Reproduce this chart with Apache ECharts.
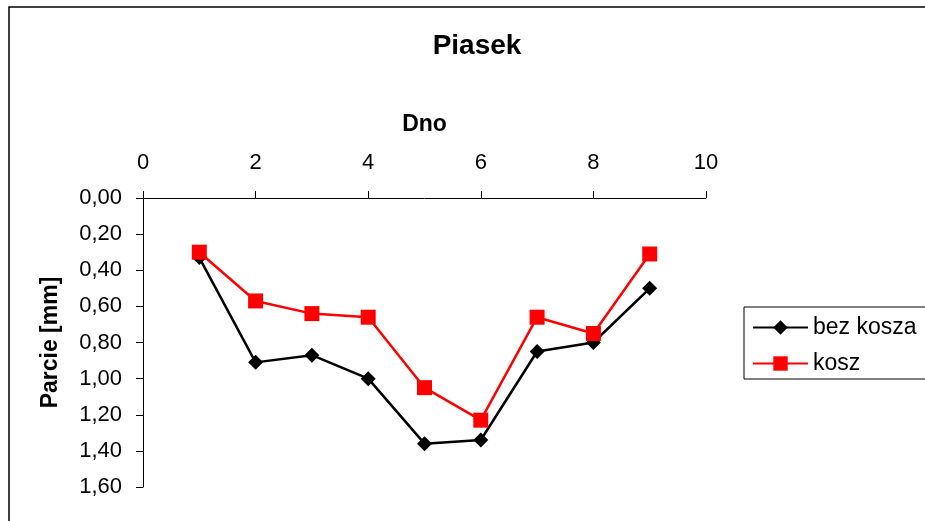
<!DOCTYPE html>
<html>
<head>
<meta charset="utf-8">
<script src="https://cdn.jsdelivr.net/npm/echarts@6/dist/echarts.min.js"></script>
<style>html,body{margin:0;padding:0;background:#fff}#c{width:925px;height:521px}</style>
</head>
<body>
<div id="c"></div>
<script>
var xValues = [1, 2, 3, 4, 5, 6, 7, 8, 9];
var bezKosza = [0.33, 0.91, 0.87, 1.00, 1.36, 1.34, 0.85, 0.80, 0.50];
var kosz = [0.30, 0.57, 0.64, 0.66, 1.05, 1.23, 0.66, 0.75, 0.31];
var seriesNames = ['bez kosza', 'kosz'];

function pairs(ys) { return xValues.map(function (x, i) { return [x, ys[i]]; }); }
var F = 'Arial, "Liberation Sans", sans-serif';

var chart = echarts.init(document.getElementById('c'), null, {renderer: 'canvas'});
chart.setOption({
  animation: false,
  backgroundColor: '#fff',
  title: {
    text: 'Piasek', left: 472, top: 27, textAlign: 'center',
    textStyle: {fontFamily: F, fontSize: 28, fontWeight: 'bold', color: '#000'}
  },
  graphic: [{
    type: 'rect', shape: {x: 9, y: 7, width: 1000, height: 600},
    style: {fill: 'none', stroke: '#000', lineWidth: 1.5}, silent: true, z: -1
  }],
  legend: {
    orient: 'vertical', left: 744, top: 307,
    padding: [9, 20, 4, 8], itemGap: 13, itemWidth: 55, itemHeight: 18,
    borderColor: '#000', borderWidth: 1, borderRadius: 0,
    textStyle: {fontFamily: F, fontSize: 23, color: '#000'},
    data: seriesNames
  },
  grid: {left: 143, right: 219, top: 198, bottom: 34, containLabel: false},
  xAxis: {
    type: 'value', position: 'top', min: 0, max: 10, interval: 2,
    name: 'Dno', nameLocation: 'middle', nameGap: 62,
    nameTextStyle: {fontFamily: F, fontSize: 23, fontWeight: 'bold', color: '#000'},
    axisLine: {show: true, onZero: false, lineStyle: {color: '#000', width: 1}},
    axisTick: {show: true, inside: false, length: 7, lineStyle: {color: '#000'}},
    axisLabel: {fontFamily: F, fontSize: 22, color: '#000', margin: 24},
    splitLine: {show: false}
  },
  yAxis: {
    type: 'value', inverse: true, min: 0, max: 1.6, interval: 0.2,
    name: 'Parcie [mm]', nameLocation: 'middle', nameGap: 81, nameRotate: 90,
    nameTextStyle: {fontFamily: F, fontSize: 23, fontWeight: 'bold', color: '#000'},
    axisLine: {show: true, onZero: false, lineStyle: {color: '#000', width: 1}},
    axisTick: {show: true, inside: false, length: 7, lineStyle: {color: '#000'}},
    axisLabel: {
      fontFamily: F, fontSize: 22, color: '#000', margin: 21,
      formatter: function (v) { return v.toFixed(2).replace('.', ','); }
    },
    splitLine: {show: false}
  },
  series: [{
    name: seriesNames[0], type: 'line', data: pairs(bezKosza),
    symbol: 'diamond', symbolSize: 15, showAllSymbol: true,
    itemStyle: {color: '#000'}, lineStyle: {color: '#000', width: 2.5}
  }, {
    name: seriesNames[1], type: 'line', data: pairs(kosz),
    symbol: 'rect', symbolSize: 15, showAllSymbol: true,
    itemStyle: {color: '#ff0000'}, lineStyle: {color: '#ff0000', width: 2.5}
  }]
});
</script>
</body>
</html>
